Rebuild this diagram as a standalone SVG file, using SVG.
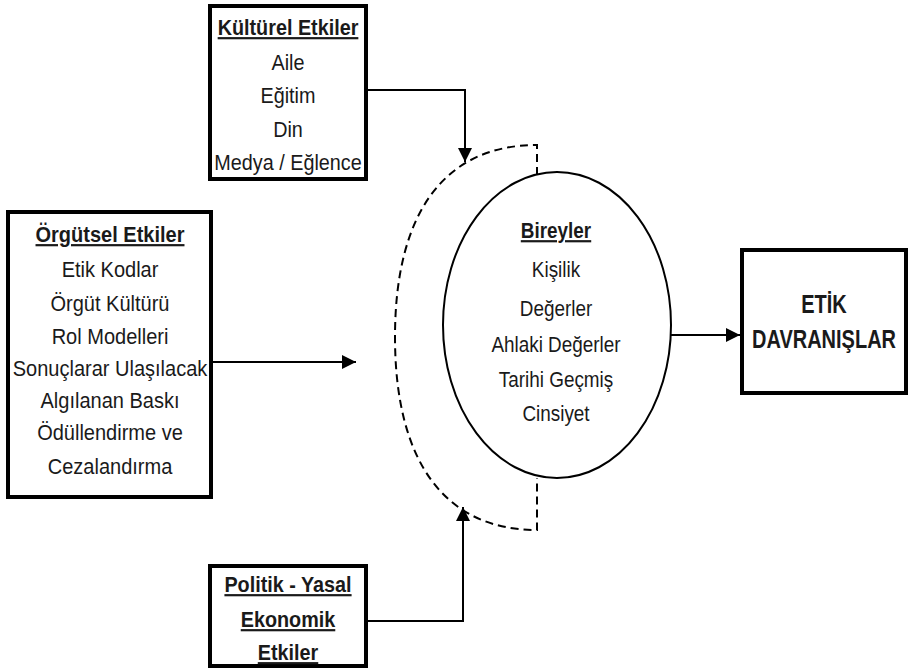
<svg xmlns="http://www.w3.org/2000/svg" width="910" height="670" viewBox="0 0 910 670">
<style>
.box{fill:#fff;stroke:#000;stroke-width:4}
.t{font-family:"Liberation Sans",Arial,sans-serif;font-size:22px;fill:#1a1a1a;text-anchor:middle}
.h{font-weight:bold;text-decoration:underline}
.b{font-weight:bold;font-size:25px}
.ln{fill:none;stroke:#000;stroke-width:2}
.dash{fill:none;stroke:#000;stroke-width:2;stroke-dasharray:8 5}
</style>
<defs>
<marker id="ah" viewBox="0 0 10 10" refX="10" refY="5" markerWidth="7" markerHeight="7" orient="auto" markerUnits="strokeWidth">
<path d="M0,0 L10,5 L0,10 z" fill="#000"/>
</marker>
</defs>
<rect width="910" height="670" fill="#fff"/>
<g id="kulturel">
<rect class="box" x="210" y="6" width="156" height="173"/>
<g transform="translate(288,0) scale(0.9,1)">
<text class="t h" x="0" y="35">Kültürel Etkiler</text>
<text class="t" x="0" y="70">Aile</text>
<text class="t" x="0" y="103">Eğitim</text>
<text class="t" x="0" y="137">Din</text>
<text class="t" x="0" y="170">Medya / Eğlence</text>
</g>
</g>
<g id="orgutsel">
<rect class="box" x="8" y="212" width="203" height="285"/>
<g transform="translate(110,0) scale(0.91,1)">
<text class="t h" x="0" y="242">Örgütsel Etkiler</text>
<text class="t" x="0" y="277">Etik Kodlar</text>
<text class="t" x="0" y="311">Örgüt Kültürü</text>
<text class="t" x="0" y="344">Rol Modelleri</text>
<text class="t" x="0" y="376">Sonuçlarar Ulaşılacak</text>
<text class="t" x="0" y="408">Algılanan Baskı</text>
<text class="t" x="0" y="440">Ödüllendirme ve</text>
<text class="t" x="0" y="474">Cezalandırma</text>
</g>
</g>
<g id="politik">
<rect class="box" x="210" y="566" width="156" height="100"/>
<g transform="translate(288,0) scale(0.9,1)">
<text class="t h" x="0" y="592">Politik - Yasal</text>
<text class="t h" x="0" y="627">Ekonomik</text>
<text class="t h" x="0" y="660">Etkiler</text>
</g>
</g>
<g id="bireyler">
<path class="dash" d="M537,175 V145 C445,145 395,212 395,337 C395,462 445,530 537,530 V478"/>
<ellipse class="ln" cx="557" cy="325" rx="114" ry="153"/>
<g transform="translate(556,0) scale(0.86,1)">
<text class="t h" x="0" y="238">Bireyler</text>
<text class="t" x="0" y="277">Kişilik</text>
<text class="t" x="0" y="316">Değerler</text>
<text class="t" x="0" y="352">Ahlaki Değerler</text>
<text class="t" x="0" y="387">Tarihi Geçmiş</text>
<text class="t" x="0" y="421">Cinsiyet</text>
</g>
</g>
<g id="etik">
<rect class="box" x="742" y="250" width="164" height="143"/>
<g transform="translate(824,0) scale(0.8,1)">
<text class="t b" x="0" y="313">ETİK</text>
<text class="t b" x="0" y="348">DAVRANIŞLAR</text>
</g>
</g>
<g id="connectors">
<path class="ln" d="M366,90 H465 V162" marker-end="url(#ah)"/>
<path class="ln" d="M211,362 H356" marker-end="url(#ah)"/>
<path class="ln" d="M366,621 H463 V507" marker-end="url(#ah)"/>
<path class="ln" d="M671,335 H740" marker-end="url(#ah)"/>
</g>
</svg>
